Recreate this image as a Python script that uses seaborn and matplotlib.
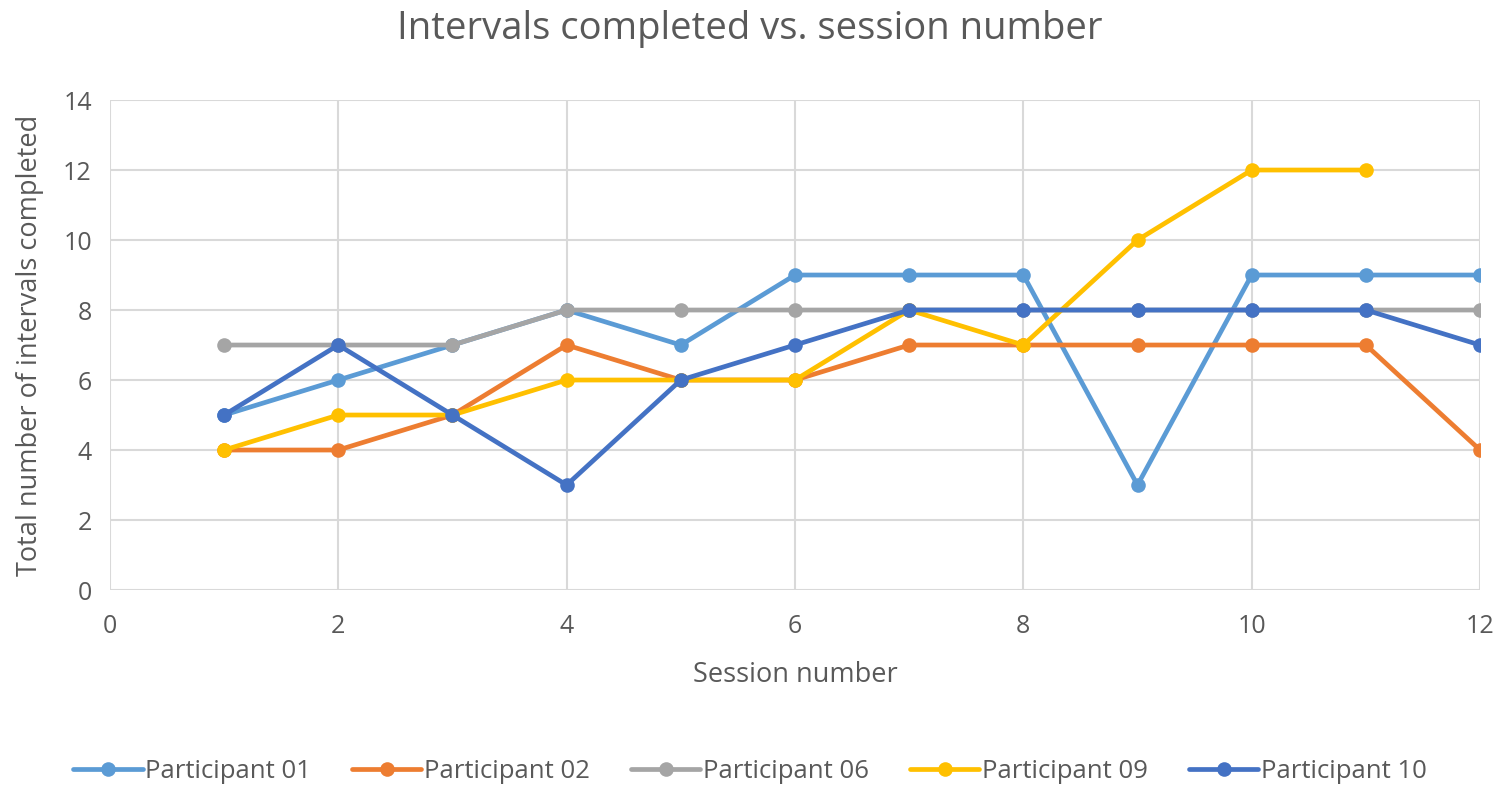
import numpy as np
import pandas as pd
import matplotlib
matplotlib.use("Agg")
import matplotlib.pyplot as plt
import seaborn as sns

sessions = [1, 2, 3, 4, 5, 6, 7, 8, 9, 10, 11, 12]
p01 = [5, 6, 7, 8, 7, 9, 9, 9, 3, 9, 9, 9]
p02 = [4, 4, 5, 7, 6, 6, 7, 7, 7, 7, 7, 4]
p06 = [7, 7, 7, 8, 8, 8, 8, 8, 8, 8, 8, 8]
p09 = [4, 5, 5, 6, 6, 6, 8, 7, 10, 12, 12, np.nan]
p10 = [5, 7, 5, 3, 6, 7, 8, 8, 8, 8, 8, 7]
names = ["Participant 01", "Participant 02", "Participant 06", "Participant 09", "Participant 10"]
colors = ["#5B9BD5", "#ED7D31", "#A5A5A5", "#FFC000", "#4472C4"]

rows = []
for name, vals in zip(names, [p01, p02, p06, p09, p10]):
    for s, v in zip(sessions, vals):
        if not np.isnan(v):
            rows.append({"Session": s, "Intervals": v, "Participant": name})
df = pd.DataFrame(rows)

sns.set_style("white")
plt.rcParams['font.family'] = ['Open Sans', 'DejaVu Sans']

fig = plt.figure(figsize=(15, 7.97), dpi=100)
ax = fig.add_axes([0.0733, 0.2597, 0.9134, 0.6148])

sns.lineplot(data=df, x="Session", y="Intervals", hue="Participant",
             hue_order=names, palette=colors, marker="o", markersize=10.5,
             markeredgewidth=0, linewidth=3.4, ax=ax, legend=True)

ax.set_xlim(0, 12)
ax.set_ylim(0, 14)
ax.set_xticks(range(0, 13, 2))
ax.set_yticks(range(0, 15, 2))
ax.grid(True, color="#D9D9D9", linewidth=1.5)
ax.set_axisbelow(True)
for sp in ax.spines.values():
    sp.set_visible(False)
ax.tick_params(axis="both", length=0, labelsize=18, labelcolor="#595959")
ax.tick_params(axis="x", pad=17)
ax.tick_params(axis="y", pad=13)
ax.set_xlabel("Session number", fontsize=19.5, color="#595959", labelpad=16)
ax.set_ylabel("Total number of intervals completed", fontsize=19.5, color="#595959", labelpad=14)

fig.suptitle("Intervals completed vs. session number", fontsize=27.5, color="#595959", y=0.988)

handles, labels = ax.get_legend_handles_labels()
ax.get_legend().remove()
fig.legend(handles, labels, loc="center", bbox_to_anchor=(0.5, 0.032), ncol=5,
           frameon=False, fontsize=18.5, handlelength=2.7, handletextpad=0.1,
           columnspacing=1.6, labelcolor="#595959")

fig.savefig("out.png", dpi=100)
